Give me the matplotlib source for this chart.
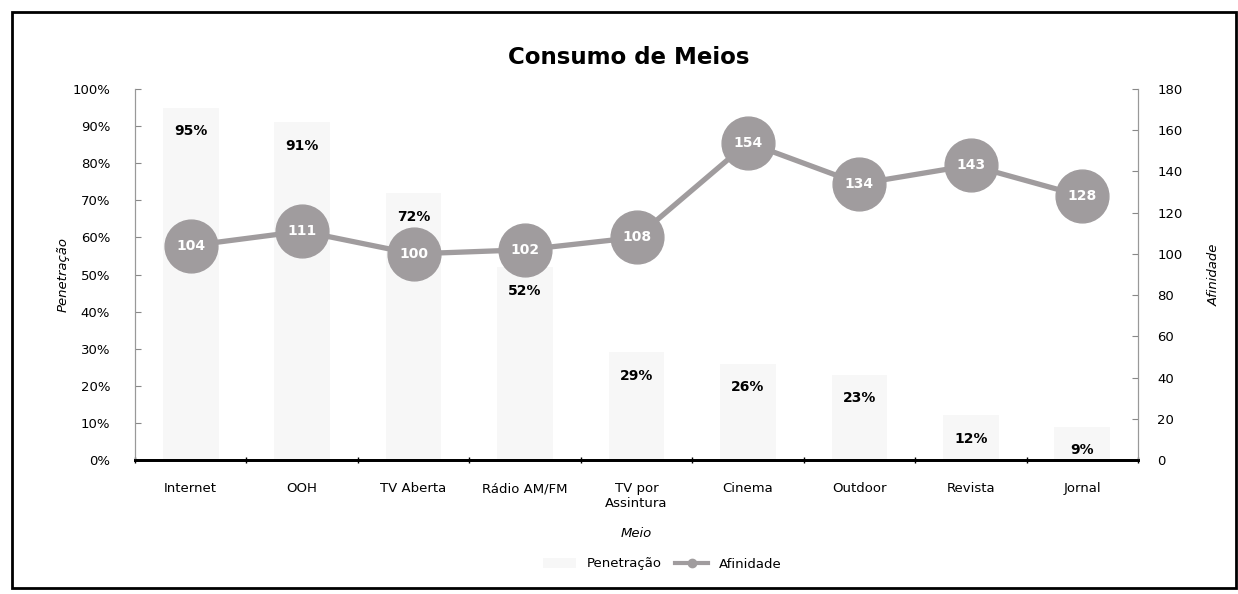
import matplotlib.pyplot as plt
import numpy as np
from matplotlib.patches import Rectangle
from matplotlib.lines import Line2D

# ---------- data ----------
meios = ['Internet', 'OOH', 'TV Aberta', 'Rádio AM/FM', 'TV por\nAssintura',
         'Cinema', 'Outdoor', 'Revista', 'Jornal']
penetracao = [95, 91, 72, 52, 29, 26, 23, 12, 9]
afinidade = [104, 111, 100, 102, 108, 154, 134, 143, 128]
pct_ticks = [0, 10, 20, 30, 40, 50, 60, 70, 80, 90, 100]
af_ticks = [0, 20, 40, 60, 80, 100, 120, 140, 160, 180]

plt.rcParams['font.family'] = ['DejaVu Sans']

fig = plt.figure(figsize=(12.38, 5.94), dpi=100)
ax = fig.add_axes([135 / 1238, 1 - 460 / 594, 1003 / 1238, 371 / 594])
ax2 = ax.twinx()

x = np.arange(len(meios))
bar_color = '#f7f7f7'
line_color = '#a09c9e'

ax.bar(x, penetracao, width=0.5, color=bar_color, label='Penetração', zorder=1)
for xi, v in zip(x, penetracao):
    ax.annotate(f'{v}%', (xi, v), xytext=(0, -12), textcoords='offset points',
                ha='center', va='top', fontsize=10, fontweight='bold', color='black')

ax.set_xlim(-0.5, len(meios) - 0.5)
ax.set_ylim(0, 100)
ax.set_yticks(pct_ticks)
ax.set_yticklabels([f'{t}%' for t in pct_ticks], fontsize=9.5)
ax.set_xticks(x)
ax.set_xticklabels(meios, fontsize=9.5)
ax.set_xticks(np.arange(len(meios) + 1) - 0.5, minor=True)
ax.tick_params(axis='x', which='major', length=0, pad=16)
ax.tick_params(axis='x', which='minor', length=5, direction='inout', width=1)
ax.tick_params(axis='y', direction='in', length=4, color='#888888', pad=18)

ax2.plot(x, afinidade, color=line_color, lw=3.8, marker='o', markersize=38,
         markerfacecolor=line_color, markeredgecolor=line_color, label='Afinidade', zorder=3)
for xi, v in zip(x, afinidade):
    ax2.text(xi, v, str(v), ha='center', va='center', fontsize=10,
             fontweight='bold', color='white', zorder=4)
ax2.set_ylim(0, 180)
ax2.set_yticks(af_ticks)
ax2.tick_params(axis='y', direction='in', length=4, color='#888888', labelsize=9.5, pad=14)

for a in (ax, ax2):
    a.spines['top'].set_visible(False)
    a.spines['left'].set_color('#999999')
    a.spines['right'].set_color('#999999')
    a.spines['bottom'].set_color('black')
    a.spines['bottom'].set_linewidth(2)
    a.patch.set_visible(False)

ax.set_ylabel('Penetração', fontstyle='italic', fontsize=9.5, labelpad=2)
ax2.set_ylabel('Afinidade', fontstyle='italic', fontsize=9.5, labelpad=18)
ax.set_xlabel('Meio', fontstyle='italic', fontsize=9.5, labelpad=12)

fig.text(0.508, 1 - 57 / 594, 'Consumo de Meios', ha='center', va='center',
         fontsize=16.5, fontweight='bold')

h1, l1 = ax.get_legend_handles_labels()
h2 = [Line2D([], [], color=line_color, lw=3, marker='o', markersize=6)]
fig.legend(h1 + h2, l1 + ['Afinidade'], loc='center', bbox_to_anchor=(0.535, 1 - 564 / 594),
           ncol=2, frameon=False, fontsize=9.5, handlelength=2.5, columnspacing=1.0)

fig.patches.append(Rectangle((12 / 1238, 6 / 594), 1224 / 1238, 576 / 594,
                             transform=fig.transFigure, fill=False,
                             edgecolor='black', lw=2))

fig.savefig('out.png', dpi=100)
